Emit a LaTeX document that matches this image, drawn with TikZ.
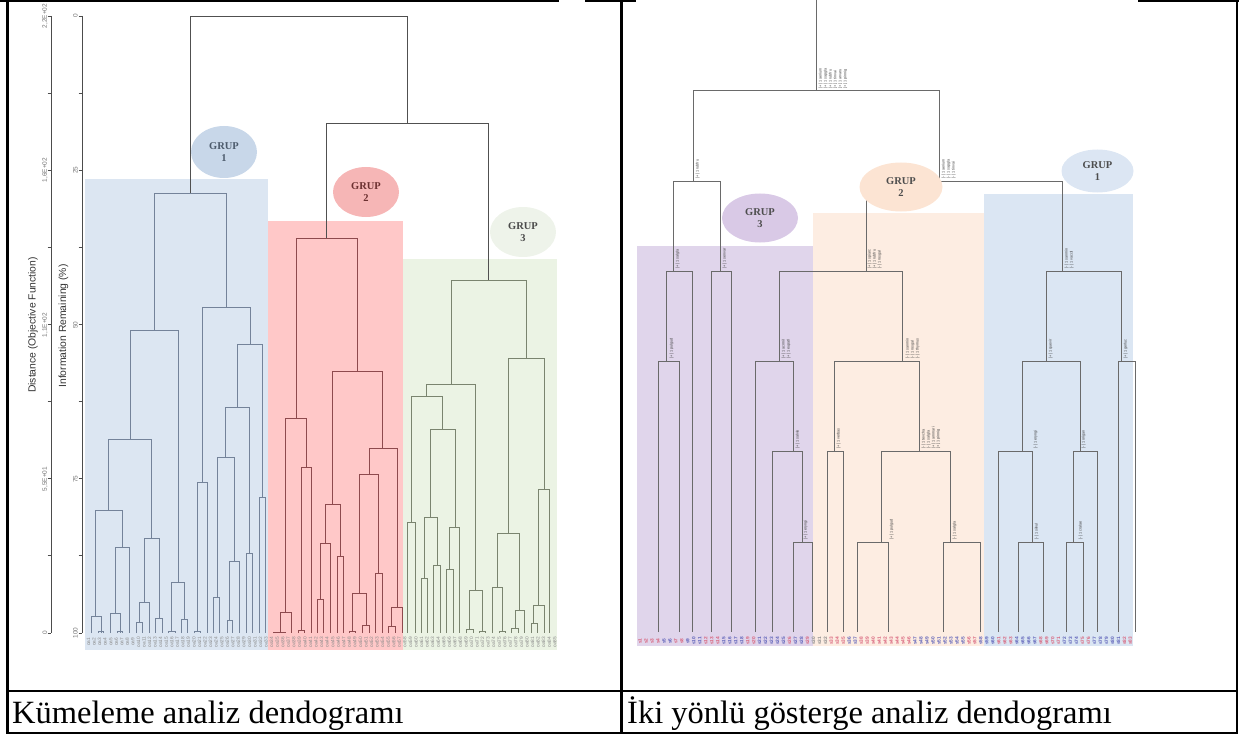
\documentclass[tikz,border=0pt]{standalone}
\usepackage{fontspec}
\setmainfont{Liberation Serif}
\newfontfamily\axf{Liberation Sans}
\usetikzlibrary{shapes.geometric}
\definecolor{g1c}{HTML}{74839A}
\definecolor{g2c}{HTML}{8E4A4E}
\definecolor{g3c}{HTML}{7A846F}
\definecolor{topc}{HTML}{505050}
\definecolor{rb}{HTML}{DCE6F2}
\definecolor{rr}{HTML}{FFC8C8}
\definecolor{rg}{HTML}{EBF3E4}
\definecolor{pp}{HTML}{E0D5EB}
\definecolor{po}{HTML}{FDEDE2}
\definecolor{pb}{HTML}{DBE6F3}
\definecolor{e1}{HTML}{C8D7E9}
\definecolor{e2}{HTML}{F6B6B6}
\definecolor{e3}{HTML}{EEF3EA}
\definecolor{f3}{HTML}{D9C9E6}
\definecolor{f2}{HTML}{FCE4D3}
\definecolor{f1}{HTML}{DCE6F3}
\definecolor{t1}{HTML}{4C5A6B}
\definecolor{t2}{HTML}{6B3030}
\definecolor{t3}{HTML}{4A4A4A}
\definecolor{tr}{HTML}{4D4D4D}
\definecolor{lr}{HTML}{D8607A}
\definecolor{lb}{HTML}{5B5FB8}
\definecolor{lg}{HTML}{8A8A8A}
\definecolor{rline}{HTML}{6A6A6A}
\newcommand\dU[5]{\draw (#1,#2) |- (#3,#5) -- (#3,#4);}
\newcommand\nl{\\{}}
\def\leafL{633}
\def\leafR{632}
\tikzset{
  grp/.style={ellipse, inner sep=0pt, align=center, font=\fontsize{10.5}{12.5}\selectfont\bfseries},
  axlab/.style={font=\axf\fontsize{6.5}{7}\selectfont, text=black!55, rotate=90, inner sep=0pt},
  axtitle/.style={font=\axf\fontsize{10.4}{12}\selectfont, text=black!80, rotate=90, inner sep=0pt},
  leafl/.style={font=\axf\fontsize{4.8}{5}\selectfont, text=lg, rotate=90, inner sep=0pt},
  leafr/.style={font=\axf\bfseries\fontsize{4.8}{5}\selectfont, rotate=90, inner sep=0pt},
  nlab/.style={font=\axf\fontsize{3.8}{5}\selectfont, text=black!75, rotate=90, anchor=north west, inner sep=0.6pt, align=left},
  captext/.style={font=\fontsize{32.6}{36}\selectfont, anchor=base west, inner sep=0pt},
  tbl/.style={line width=2.2bp, black},
  axline/.style={line width=0.8bp, black!70}
}
\begin{document}
\begin{tikzpicture}[x=1bp,y=-1bp]
\useasboundingbox (0,0) rectangle (1239,734);
% coloured group areas
\fill[rb] (85,179) rectangle (268,650);
\fill[rr] (268,221) rectangle (403,650);
\fill[rg] (403,259) rectangle (557,650);
\fill[pp] (637,246) rectangle (812.5,646);
\fill[po] (812.5,213) rectangle (984,646);
\fill[pb] (984,194) rectangle (1133,646);
% axes
\draw[axline] (51,16) -- (51,633);
\draw[axline] (82,16) -- (82,633);
\foreach \k in {0,...,8}{
  \draw[axline] (47.5,{16+77.125*\k}) -- (51,{16+77.125*\k});
  \draw[axline] (78.5,{16+77.125*\k}) -- (82,{16+77.125*\k});
}
\node[axlab] (o0) at (45,16) {2,2E+02};
\node[axlab] (o1) at (45,170) {1,6E+02};
\node[axlab] (o2) at (45,325) {1,1E+02};
\node[axlab] (o3) at (45,479) {5,5E+01};
\node[axlab] (o4) at (45,633) {0};
\node[axlab] (i0) at (75.5,16) {0};
\node[axlab] (i1) at (75.5,170) {25};
\node[axlab] (i2) at (75.5,325) {50};
\node[axlab] (i3) at (75.5,479) {75};
\node[axlab] (i4) at (75.5,633) {100};
\node[axtitle] (dt) at (33,325) {Distance (Objective Function)};
\node[axtitle] (it) at (63.5,326) {Information Remaining (\%)};
% left dendrogram: top
\begin{scope}[color=topc, line width=0.95bp]
\dU{190.5}{193}{407}{123}{16}
\dU{326}{238}{488}{280}{123}
\end{scope}
% group 1
\begin{scope}[color=g1c, line width=0.95bp]
\dU{154}{330}{226}{307}{193}
\dU{130}{439}{178}{582}{330}
\dU{108}{510}{151}{538}{439}
\dU{95}{616}{122}{547}{510}
\dU{91}{\leafL}{101}{\leafL}{616}
\dU{98}{\leafL}{103}{\leafL}{631.5}
\dU{115}{613}{129}{\leafL}{547}
\dU{110}{\leafL}{120}{\leafL}{613}
\dU{117}{\leafL}{122}{\leafL}{631.5}
\dU{144}{602}{159}{618}{538}
\dU{139}{622}{149}{\leafL}{602}
\dU{136}{\leafL}{142}{\leafL}{622}
\dU{155}{\leafL}{162}{\leafL}{618}
\dU{171}{631.5}{184}{619}{582}
\dU{168}{\leafL}{175}{\leafL}{631.5}
\dU{181}{\leafL}{187}{\leafL}{619}
\dU{202}{482}{250}{344}{307}
\dU{197}{631.5}{207}{\leafL}{482}
\dU{194}{\leafL}{200}{\leafL}{631.5}
\dU{237}{407}{262}{497}{344}
\dU{225}{457}{249}{553}{407}
\dU{217}{597}{234}{561}{457}
\dU{213}{\leafL}{219}{\leafL}{597}
\dU{229}{620}{239}{\leafL}{561}
\dU{227}{\leafL}{232}{\leafL}{620}
\dU{246}{\leafL}{252}{\leafL}{553}
\dU{259}{\leafL}{265}{\leafL}{497}
\end{scope}
% group 2
\begin{scope}[color=g2c, line width=0.95bp]
\dU{296}{418}{357}{371}{238}
\dU{285}{612}{306}{467}{418}
\dU{280}{632}{291}{\leafL}{612}
\dU{273}{\leafL}{285}{\leafL}{632}
\dU{301}{630}{311}{\leafL}{467}
\dU{298}{\leafL}{304}{\leafL}{630}
\dU{332}{504}{382}{448}{371}
\dU{325}{543}{340}{556}{504}
\dU{320}{599}{330}{\leafL}{543}
\dU{317}{\leafL}{323}{\leafL}{599}
\dU{337}{\leafL}{343}{\leafL}{556}
\dU{369}{474}{397}{607}{448}
\dU{359}{593}{378}{573}{474}
\dU{352}{631.5}{366}{625}{593}
\dU{349}{\leafL}{355}{\leafL}{631.5}
\dU{362}{\leafL}{369}{\leafL}{625}
\dU{375}{\leafL}{382}{\leafL}{573}
\dU{391}{626}{402}{\leafL}{607}
\dU{388}{\leafL}{395}{\leafL}{626}
\end{scope}
% group 3
\begin{scope}[color=g3c, line width=0.95bp]
\dU{451}{384}{526}{358}{280}
\dU{426}{396}{475}{590}{384}
\dU{411}{522}{442}{429}{396}
\dU{407}{\leafL}{415}{\leafL}{522}
\dU{430}{517}{455}{527}{429}
\dU{424}{578}{437}{565}{517}
\dU{421}{\leafL}{427}{\leafL}{578}
\dU{433}{\leafL}{440}{\leafL}{565}
\dU{449}{569}{459}{\leafL}{527}
\dU{446}{\leafL}{453}{\leafL}{569}
\dU{469}{629}{482}{631.5}{590}
\dU{466}{\leafL}{473}{\leafL}{629}
\dU{479}{\leafL}{485}{\leafL}{631.5}
\dU{508}{533}{544}{489}{358}
\dU{497}{587}{519}{610}{533}
\dU{492}{\leafL}{502}{631.5}{587}
\dU{499}{\leafL}{505}{\leafL}{631.5}
\dU{515}{628}{524}{\leafL}{610}
\dU{511}{\leafL}{518}{\leafL}{628}
\dU{538}{605}{549}{\leafL}{489}
\dU{533}{623}{544}{\leafL}{605}
\dU{531}{\leafL}{537}{\leafL}{623}
\end{scope}
% left leaf labels
\foreach \i in {1,...,85}{
  \node[leafl] (ll\i) at ({82.9+5.55*\i},642) {oa\i};
}
% right dendrogram
\begin{scope}[color=rline, line width=0.85bp]
\draw (816.4,0) -- (816.4,90.7);
\dU{693}{181}{939.4}{181}{90.7}
\dU{673.4}{271}{720.8}{271}{181}
\dU{866}{271}{1062.7}{271}{181}
\dU{666}{361}{692}{\leafR}{271}
\dU{658}{\leafR}{679}{\leafR}{361}
\dU{711}{\leafR}{731}{\leafR}{271}
\dU{779}{361}{902}{361}{271}
\dU{755}{\leafR}{793}{451}{361}
\dU{772}{\leafR}{802}{542}{451}
\dU{793}{\leafR}{812}{\leafR}{542}
\dU{834}{451}{919}{451}{361}
\dU{827}{\leafR}{843}{\leafR}{451}
\dU{881}{542}{950}{542}{451}
\dU{857}{\leafR}{888}{\leafR}{542}
\dU{943}{\leafR}{980}{\leafR}{542}
\dU{1046}{361}{1121}{361}{271}
\dU{1022}{451}{1080}{451}{361}
\dU{998}{\leafR}{1032}{542}{451}
\dU{1018}{\leafR}{1043}{\leafR}{542}
\dU{1073}{542}{1097}{\leafR}{451}
\dU{1066}{\leafR}{1083}{\leafR}{542}
\dU{1118}{\leafR}{1135}{\leafR}{361}
\end{scope}
% right node labels
\node[nlab] (n0) at (818,89) {{[+]} 1 aerium\nl{[+]} 1 sapgla\nl{[+]} 1 rubfru\nl{[+]} 1 tinvai\nl{[+]} 1 arvaru\nl{[+]} 1 pinnig};
\node[nlab] (n1) at (695,179) {{[+]} 1 rubfru};
\node[nlab] (n2) at (941,179) {{[-]} 1 aerium\nl{[-]} 1 sapgla\nl{[-]} 1 tinvai};
\node[nlab] (n3) at (675,269) {{[+]} 1 salgla};
\node[nlab] (n4) at (722,269) {{[+]} 1 senvar};
\node[nlab] (n5) at (867,269) {{[+]} 1 spiarc\nl{[+]} 1 rubfru\nl{[-]} 1 rosgal};
\node[nlab] (n6) at (1064,269) {{[-]} 1 sanmin\nl{[-]} 1 vaccit};
\node[nlab] (n7) at (669,359) {{[+]} 1 pulgud};
\node[nlab] (n8) at (781,359) {{[+]} 1 acrmil\nl{[+]} 1 eupatl};
\node[nlab] (n9) at (905,359) {{[-]} 1 sanmin\nl{[-]} 1 rosgal\nl{[-]} 1 thymus};
\node[nlab] (n10) at (1048,359) {{[+]} 1 quevir};
\node[nlab] (n11) at (1123,359) {{[+]} 1 gerluc};
\node[nlab] (n12) at (795,449) {{[+]} 1 salvio};
\node[nlab] (n13) at (836,449) {{[+]} 1 verbas};
\node[nlab] (n14) at (921,449) {{[-]} 1 tevcha\nl{[-]} 1 salgla\nl{[+]} 1 ammari\nl{[+]} 1 pinnig};
\node[nlab] (n15) at (1033,449) {{[-]} 1 eryngi};
\node[nlab] (n16) at (1081,449) {{[-]} 1 origan};
\node[nlab] (n17) at (803,540) {{[+]} 1 eryngi};
\node[nlab] (n18) at (889,540) {{[+]} 1 pulgud};
\node[nlab] (n19) at (952,540) {{[-]} 1 salgla};
\node[nlab] (n20) at (1034,540) {{[-]} 1 silvul};
\node[nlab] (n21) at (1078,540) {{[-]} 1 cralae};
% right leaf labels
\foreach \c [count=\i] in {lr,lr,lr,lr,lb,lb,lr,lr,lb,lb,lb,lr,lr,lr,lb,lb,lb,lb,lr,lr,lb,lb,lb,lb,lb,lr,lb,lb,lr,
  lg,lg,lg,lr,lr,lr,lb,lb,lr,lr,lr,lr,lr,lr,lr,lr,lr,lb,lb,lb,lb,lb,lb,lb,lb,lb,lr,lr,
  lb,lb,lb,lr,lr,lr,lb,lb,lb,lb,lr,lr,lr,lr,lb,lb,lb,lr,lr,lb,lb,lb,lb,lb,lr,lr}{
  \node[leafr, text=\c] (rl\i) at ({634+5.98*\i},641) {s\i};
}
% group ellipses
\node[grp, fill=e1, text=t1, minimum width=66bp, minimum height=52bp] (gl1) at (224,152) {GRUP\\1};
\node[grp, fill=e2, text=t2, minimum width=66bp, minimum height=50bp] (gl2) at (366,192) {GRUP\\2};
\node[grp, fill=e3, text=t3, minimum width=66bp, minimum height=50bp] (gl3) at (523,232) {GRUP\\3};
\node[grp, fill=f3, text=tr, minimum width=76bp, minimum height=49bp] (gr3) at (760,218) {GRUP\\3};
\node[grp, fill=f2, text=tr, minimum width=83bp, minimum height=49bp] (gr2) at (901,187) {GRUP\\2};
\node[grp, fill=f1, text=tr, minimum width=72bp, minimum height=43bp] (gr1) at (1097.5,171) {GRUP\\1};
% table
\draw[tbl] (7.5,0) -- (7.5,734);
\draw[tbl] (621.5,0) -- (621.5,734);
\draw[tbl] (1237,0) -- (1237,734);
\draw[tbl] (6.4,691) -- (1238.1,691);
\draw[tbl] (6.4,732.9) -- (1238.1,732.9);
\draw[tbl] (0,1.1) -- (559,1.1);
\draw[tbl] (585,1.1) -- (636,1.1);
\draw[tbl] (1138,1.1) -- (1239,1.1);
% captions
\node[captext] (c1) at (12,723) {Kümeleme analiz dendogramı};
\node[captext] (c2) at (627,723) {İki yönlü gösterge analiz dendogramı};
\end{tikzpicture}
\end{document}
